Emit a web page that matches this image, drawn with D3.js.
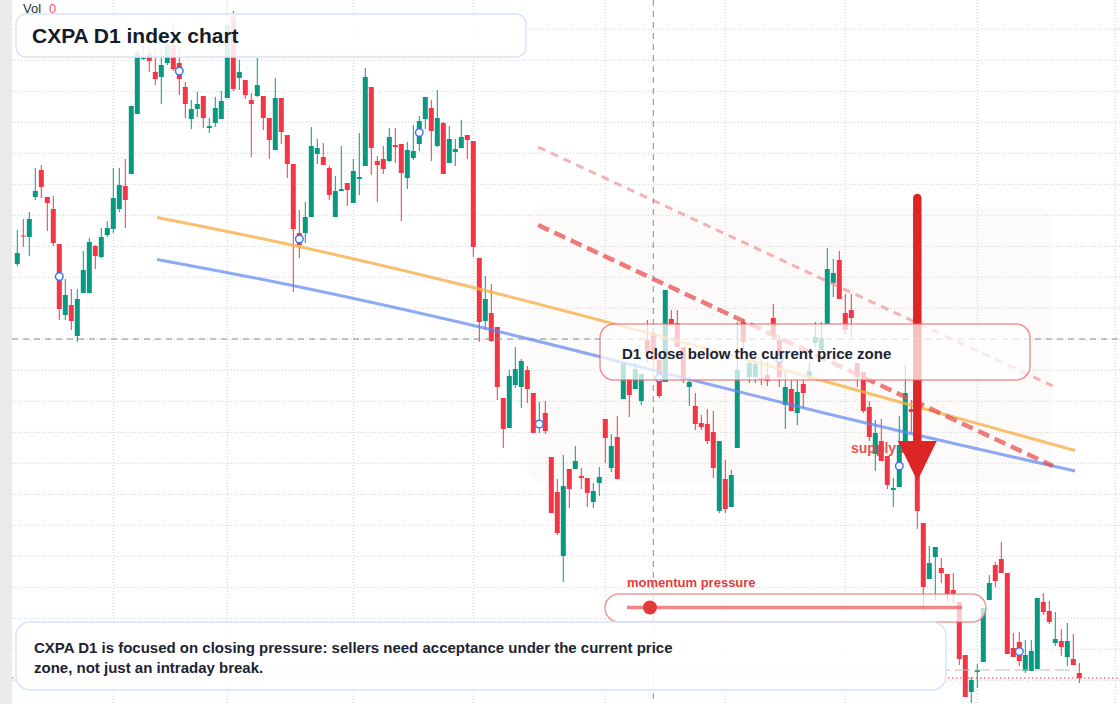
<!DOCTYPE html>
<html>
<head>
<meta charset="utf-8">
<script src="https://d3js.org/d3.v7.min.js"></script>
<style>
  html, body { margin: 0; padding: 0; background: #fff; overflow: hidden; }
  svg { display: block; font-family: "Liberation Sans", Arial, sans-serif; }
</style>
</head>
<body>
<script>
// CXPA D1 candles (oldest first)
var open = [
  49.6, 52.45, 52.3, 56.3, 59.0, 56.3, 55.1, 51.6, 44.5, 45.5,
  42.4, 46.7, 46.7, 51.4, 50.3, 52.5, 53.1, 55.1, 57.4, 58.6,
  64.6, 70.1, 70.7, 68.8, 68.3, 69.7, 71.5, 69.7, 67.3, 64.1,
  65.1, 66.4, 63.2, 63.7, 64.1, 66.2, 74.3, 68.2, 68.0, 66.0,
  66.4, 66.4, 64.2, 61.0, 66.2, 62.5, 59.6, 52.7, 52.7, 54.3,
  60.6, 60.3, 59.2, 54.3, 56.9, 57.7, 55.7, 58.1, 59.4, 67.3,
  59.9, 60.1, 59.9, 61.5, 61.6, 58.2, 60.2, 61.6, 64.1, 65.2,
  61.4, 63.7, 59.7, 60.8, 61.2, 62.5, 61.9, 50.2, 43.9, 44.7,
  43.3, 36.2, 33.2, 37.5, 37.3, 39.0, 36.7, 33.2, 34.7, 30.3,
  26.8, 20.4, 29.1, 29.1, 28.4, 28.2, 25.8, 27.7, 34.1, 29.2,
  32.3, 36.1, 38.1, 37.1, 35.9, 42.0, 42.7, 40.0, 37.8, 44.1,
  43.7, 41.3, 37.3, 35.4, 33.7, 33.6, 32.8, 24.9, 28.1, 25.3,
  31.2, 43.8, 38.3, 38.3, 38.2, 38.5, 44.2, 42.0, 35.5, 37.1,
  34.7, 37.6, 38.3, 41.7, 41.0, 43.6, 47.7, 50.0, 44.7, 45.0,
  39.7, 38.8, 35.3, 30.6, 31.9, 30.4, 27.0, 27.3, 31.8, 35.1,
  34.8, 23.7, 18.1, 20.3, 19.2, 18.6, 17.0, 15.8, 10.5, 6.8,
  8.8, 9.8, 16.0, 19.5, 20.1, 18.7, 11.2, 11.8, 8.9, 8.9,
  9.1, 15.8, 14.9, 11.7, 11.9, 10.3, 10.1, 8.7
];
var high = [
  53.0, 54.1, 54.8, 59.2, 59.5, 56.3, 56.4, 51.6, 48.1, 47.1,
  47.1, 50.9, 52.2, 51.5, 53.2, 53.9, 59.2, 59.2, 60.1, 65.4,
  71.0, 71.5, 71.7, 71.0, 71.0, 72.7, 73.8, 71.3, 67.8, 66.0,
  66.8, 66.4, 64.2, 66.3, 66.9, 73.7, 74.9, 70.0, 68.0, 66.7,
  70.2, 66.4, 64.2, 68.2, 66.2, 62.5, 59.6, 55.0, 55.8, 63.3,
  62.1, 61.7, 59.4, 58.4, 61.4, 57.7, 60.1, 62.7, 69.2, 67.3,
  60.4, 61.4, 63.2, 63.2, 61.6, 61.8, 63.5, 64.4, 66.3, 66.0,
  67.0, 63.8, 63.4, 62.1, 64.0, 62.5, 61.9, 50.2, 48.4, 47.6,
  43.3, 36.2, 39.0, 41.3, 40.1, 39.4, 36.7, 35.8, 35.9, 30.3,
  28.1, 30.5, 29.1, 31.4, 29.2, 28.2, 27.7, 29.3, 34.1, 32.6,
  34.4, 39.7, 38.1, 39.7, 38.6, 44.0, 43.2, 40.5, 47.0, 45.0,
  45.0, 41.3, 38.3, 36.7, 34.5, 35.1, 34.9, 31.9, 30.0, 29.0,
  43.8, 44.1, 40.0, 40.3, 40.0, 39.8, 45.6, 42.5, 38.8, 38.0,
  38.0, 38.0, 39.8, 43.8, 43.8, 51.2, 50.1, 50.9, 46.6, 46.6,
  39.7, 38.8, 35.9, 34.0, 34.1, 30.4, 28.2, 34.4, 39.5, 36.0,
  35.5, 23.7, 21.4, 21.3, 20.2, 18.6, 18.7, 15.8, 10.5, 8.3,
  9.6, 15.2, 18.5, 19.8, 21.8, 18.7, 12.7, 12.8, 12.0, 12.0,
  16.2, 16.7, 15.9, 14.8, 13.1, 13.7, 12.6, 9.7
];
var low = [
  49.4, 51.3, 50.4, 56.0, 56.2, 52.9, 51.4, 44.0, 44.0, 43.0,
  41.8, 46.7, 46.7, 49.1, 50.2, 52.3, 52.7, 54.8, 53.2, 58.6,
  64.6, 70.0, 68.8, 67.5, 65.6, 69.5, 68.9, 66.5, 64.2, 63.1,
  64.3, 63.2, 62.7, 63.3, 64.1, 66.2, 66.9, 67.0, 66.1, 60.3,
  66.3, 63.0, 60.1, 61.0, 61.6, 58.2, 46.8, 50.2, 51.7, 54.3,
  59.6, 59.5, 56.0, 54.3, 56.9, 55.4, 55.7, 56.5, 59.4, 58.5,
  55.8, 58.6, 59.8, 59.7, 53.9, 57.1, 60.0, 60.9, 63.1, 59.9,
  61.3, 58.6, 59.7, 59.4, 61.2, 60.1, 50.3, 41.8, 43.0, 41.8,
  36.0, 31.2, 33.2, 37.2, 35.2, 35.7, 32.7, 32.7, 32.6, 24.7,
  22.5, 17.8, 25.2, 29.1, 27.1, 25.3, 25.2, 26.4, 29.7, 28.8,
  28.1, 36.1, 34.3, 37.1, 35.5, 39.8, 39.8, 36.2, 37.8, 43.5,
  41.3, 37.7, 35.4, 33.0, 33.0, 31.6, 28.2, 24.7, 24.7, 25.3,
  31.2, 40.8, 37.7, 37.7, 37.5, 37.4, 42.0, 37.3, 33.1, 34.9,
  33.5, 35.2, 38.0, 41.3, 41.0, 43.6, 46.3, 46.1, 42.6, 42.3,
  37.3, 34.7, 31.9, 28.9, 29.9, 27.1, 25.3, 27.3, 31.5, 32.7,
  23.1, 15.0, 18.1, 16.0, 17.7, 15.8, 15.7, 9.5, 6.3, 5.7,
  7.2, 9.8, 16.0, 17.3, 18.7, 10.6, 10.3, 9.4, 8.7, 8.9,
  9.1, 14.5, 13.6, 11.4, 10.4, 9.4, 9.5, 7.7
];
var close = [
  50.7, 52.35, 54.1, 56.9, 57.3, 55.7, 51.7, 45.1, 46.5, 43.9,
  46.1, 49.0, 51.8, 50.4, 52.3, 53.2, 56.2, 57.5, 56.0, 65.4,
  70.7, 70.2, 69.9, 68.1, 69.5, 71.5, 69.1, 68.1, 65.6, 65.1,
  65.6, 64.2, 63.4, 65.2, 65.9, 73.5, 67.1, 68.8, 66.5, 65.6,
  67.5, 64.2, 62.0, 66.2, 62.8, 59.6, 53.1, 51.5, 54.3, 61.4,
  61.2, 59.5, 56.5, 56.9, 57.1, 57.0, 58.9, 58.3, 68.3, 61.2,
  59.5, 59.1, 62.3, 61.3, 58.7, 61.0, 60.9, 63.9, 66.3, 62.9,
  64.2, 58.6, 62.1, 61.1, 62.3, 62.0, 51.3, 43.8, 46.1, 41.9,
  37.3, 33.1, 38.4, 39.1, 39.9, 37.1, 32.7, 34.0, 32.9, 24.7,
  22.7, 27.4, 27.1, 29.9, 28.2, 26.7, 26.9, 28.3, 32.2, 31.4,
  28.1, 39.7, 36.5, 39.1, 38.6, 40.8, 40.0, 36.4, 47.0, 43.5,
  41.3, 38.0, 37.8, 33.6, 33.3, 31.9, 29.2, 31.9, 25.1, 28.5,
  39.0, 41.8, 39.7, 39.6, 38.0, 37.9, 42.5, 38.3, 37.3, 34.9,
  36.8, 36.7, 38.9, 42.3, 42.2, 49.1, 48.7, 46.1, 43.0, 44.2,
  38.3, 34.9, 32.3, 32.7, 29.9, 27.5, 27.2, 31.5, 36.7, 34.8,
  24.9, 17.3, 19.7, 21.3, 18.7, 16.6, 16.6, 10.1, 6.3, 8.0,
  9.0, 15.2, 17.7, 17.9, 18.7, 10.6, 10.3, 9.9, 10.5, 10.9,
  16.2, 14.8, 13.8, 12.1, 11.3, 11.9, 9.5, 8.2
];

// grid: candle index of each month start, price of each horizontal line
var gridIdx = [16, 35, 56, 76, 98, 118, 138, 160, 183];
var gridPrice = [73.07, 69.97, 66.87, 63.77, 60.67, 57.57, 54.47, 51.37, 48.27, 45.17, 42.07,
                 38.97, 35.87, 32.77, 29.67, 26.57, 23.47, 20.37, 17.27, 14.17, 11.07, 7.97];

// overlays, as [candle index, price]
var markerIdx = [7, 27, 47, 67, 87, 107, 127, 147, 167];
var orangeLine = [[23.3, 54.25], [43.8, 51.75], [72.1, 47.83], [113.8, 41.3], [133.8, 38.0], [176.3, 30.95]];
var blueLine = [[23.3, 50.05], [43.8, 47.7], [72.1, 44.0], [113.8, 37.8], [133.8, 34.8], [176.3, 28.9]];
var trendMain = [[86.8, 53.5], [172.6, 29.4]];
var trendOuter = [[86.8, 61.3], [172.6, 37.4]];
var zoneIdx = [85, 172.4];
var zonePrice = [55.3, 27.8];
var arrowIdx = 150, arrowFrom = 56.2, arrowTo = 27.9;
var crossIdx = 106, crossPrice = 42.1;
var levelPrice = 9.0;

var W = 1120, H = 704;
var UP = "#089981", DOWN = "#f23645";

var x = d3.scaleLinear().domain([0, open.length - 1]).range([17.3, 1079.3]);
var y = d3.scaleLinear().domain([0, 76]).range([760, 0]);

var svg = d3.select("body").append("svg").attr("width", W).attr("height", H);
svg.append("rect").attr("width", W).attr("height", H).attr("fill", "#fff");
svg.append("rect").attr("width", 12).attr("height", H).attr("fill", "#ebebec");

// grid
svg.append("g").selectAll("line").data(gridPrice).enter().append("line")
  .attr("x1", 12).attr("x2", W).attr("y1", d => y(d)).attr("y2", d => y(d))
  .attr("stroke", "#cdcfd3").attr("stroke-dasharray", "1,2");
svg.append("g").selectAll("line").data(gridIdx).enter().append("line")
  .attr("x1", d => x(d)).attr("x2", d => x(d)).attr("y1", 0).attr("y2", H)
  .attr("stroke", "#cdcfd3").attr("stroke-dasharray", "1,2");

// supply zone
svg.append("rect")
  .attr("x", x(zoneIdx[0])).attr("y", y(zonePrice[0]))
  .attr("width", x(zoneIdx[1]) - x(zoneIdx[0])).attr("height", y(zonePrice[1]) - y(zonePrice[0]))
  .attr("rx", 16).attr("fill", "rgb(240,215,195)").attr("opacity", 0.1);

// candles
var idx = d3.range(open.length);
var cg = svg.append("g");
cg.selectAll("line").data(idx).enter().append("line")
  .attr("x1", i => x(i)).attr("x2", i => x(i))
  .attr("y1", i => y(high[i])).attr("y2", i => y(low[i]))
  .attr("stroke", i => close[i] >= open[i] ? UP : DOWN).attr("stroke-width", 1);
cg.selectAll("rect").data(idx).enter().append("rect")
  .attr("x", i => x(i) - 2.5).attr("width", 5)
  .attr("y", i => y(Math.max(open[i], close[i])))
  .attr("height", i => Math.max(1, Math.abs(y(open[i]) - y(close[i]))))
  .attr("fill", i => close[i] >= open[i] ? UP : DOWN);

// level line and last price line
svg.append("line").attr("x1", 15).attr("x2", x(176.5)).attr("y1", y(levelPrice)).attr("y2", y(levelPrice))
  .attr("stroke", "#f5a3a3").attr("stroke-dasharray", "5,5");
svg.append("line").attr("x1", 20).attr("x2", x(176.5)).attr("y1", y(levelPrice)).attr("y2", y(levelPrice))
  .attr("stroke", "#98d8ca").attr("stroke-dasharray", "5,15");
var last = close[close.length - 1];
svg.append("line").attr("x1", 12).attr("x2", W).attr("y1", y(last)).attr("y2", y(last))
  .attr("stroke", DOWN).attr("stroke-width", 1.2).attr("stroke-dasharray", "1.5,2.5");

// moving lines
var lineGen = d3.line().x(d => x(d[0])).y(d => y(d[1])).curve(d3.curveMonotoneX);
svg.append("path").attr("d", lineGen(orangeLine)).attr("fill", "none")
  .attr("stroke", "#f6b04a").attr("stroke-width", 3).attr("opacity", 0.8);
svg.append("path").attr("d", lineGen(blueLine)).attr("fill", "none")
  .attr("stroke", "#5d86f3").attr("stroke-width", 3).attr("opacity", 0.7);

// trend lines
var straight = d3.line().x(d => x(d[0])).y(d => y(d[1]));
svg.append("path").attr("d", straight(trendOuter)).attr("fill", "none")
  .attr("stroke", "#f08c8c").attr("stroke-width", 3).attr("opacity", 0.65)
  .attr("stroke-dasharray", "8,6");
svg.append("path").attr("d", straight(trendMain)).attr("fill", "none")
  .attr("stroke", "#e65252").attr("stroke-width", 4.5).attr("opacity", 0.75)
  .attr("stroke-dasharray", "12,6");

// markers
svg.append("g").selectAll("circle").data(markerIdx).enter().append("circle")
  .attr("cx", i => x(i)).attr("cy", i => y((open[i] + close[i]) / 2)).attr("r", 3.8)
  .attr("fill", "#fff").attr("stroke", "#3f72f0").attr("stroke-width", 1.4);

// supply zone label
svg.append("text").attr("x", 851).attr("y", 453).text("supply zone")
  .attr("font-size", 14).attr("font-weight", 700).attr("fill", "#e04444").attr("opacity", 0.9);

// arrow
var ax = x(arrowIdx), tip = y(arrowTo);
svg.append("line").attr("x1", ax).attr("x2", ax).attr("y1", y(arrowFrom)).attr("y2", tip - 36)
  .attr("stroke", "#dc2626").attr("stroke-width", 8.5).attr("stroke-linecap", "round");
svg.append("path").attr("d", "M" + (ax - 19.5) + "," + (tip - 40) + "L" + (ax + 19.5) + "," + (tip - 40) + "L" + ax + "," + tip + "Z")
  .attr("fill", "#dc2626");

// crosshair
svg.append("line").attr("x1", x(crossIdx)).attr("x2", x(crossIdx)).attr("y1", 0).attr("y2", H)
  .attr("stroke", "#8c8c8c").attr("stroke-dasharray", "6,5");
svg.append("line").attr("x1", 12).attr("x2", W).attr("y1", y(crossPrice)).attr("y2", y(crossPrice))
  .attr("stroke", "#8c8c8c").attr("stroke-dasharray", "6,5");

// annotation boxes
svg.append("rect").attr("x", 16).attr("y", 14).attr("width", 510).attr("height", 43).attr("rx", 10)
  .attr("fill", "#fff").attr("fill-opacity", 0.87).attr("stroke", "#d8e4fb").attr("stroke-width", 1.5);
svg.append("text").attr("x", 32).attr("y", 43).text("CXPA D1 index chart")
  .attr("font-size", 21).attr("font-weight", 700).attr("fill", "#151b28");

svg.append("rect").attr("x", 600).attr("y", 324).attr("width", 430).attr("height", 56).attr("rx", 14)
  .attr("fill", "#fff").attr("fill-opacity", 0.72).attr("stroke", "#e86868").attr("stroke-opacity", 0.7).attr("stroke-width", 1.5);
svg.append("text").attr("x", 622).attr("y", 359).text("D1 close below the current price zone")
  .attr("font-size", 15).attr("font-weight", 700).attr("fill", "#1c2331");

svg.append("rect").attr("x", 605).attr("y", 594).attr("width", 381).attr("height", 28).attr("rx", 14)
  .attr("fill", "#fff").attr("fill-opacity", 0.72).attr("stroke", "#ea7070").attr("stroke-opacity", 0.7).attr("stroke-width", 1.5);
svg.append("line").attr("x1", 627).attr("x2", 962).attr("y1", 607.5).attr("y2", 607.5)
  .attr("stroke", "#ea6a6a").attr("stroke-width", 3.5).attr("opacity", 0.8);
svg.append("circle").attr("cx", 650).attr("cy", 607.5).attr("r", 7).attr("fill", "#e23a3a");
svg.append("text").attr("x", 627).attr("y", 587).text("momentum pressure")
  .attr("font-size", 13).attr("font-weight", 700).attr("fill", "#e23c3c");

svg.append("rect").attr("x", 16).attr("y", 622).attr("width", 930).attr("height", 68).attr("rx", 14)
  .attr("fill", "#fff").attr("fill-opacity", 0.88).attr("stroke", "#d8e4fb").attr("stroke-width", 1.5);
var note = svg.append("text").attr("font-size", 15).attr("font-weight", 700).attr("fill", "#1c2331");
note.append("tspan").attr("x", 34).attr("y", 653)
  .text("CXPA D1 is focused on closing pressure: sellers need acceptance under the current price");
note.append("tspan").attr("x", 34).attr("y", 673).text("zone, not just an intraday break.");

// volume legend
var vol = svg.append("text").attr("x", 23).attr("y", 13).attr("font-size", 13);
vol.append("tspan").attr("fill", "#2a2e39").text("Vol");
vol.append("tspan").attr("x", 49).attr("fill", "#f7525f").text("0");
</script>
</body>
</html>
